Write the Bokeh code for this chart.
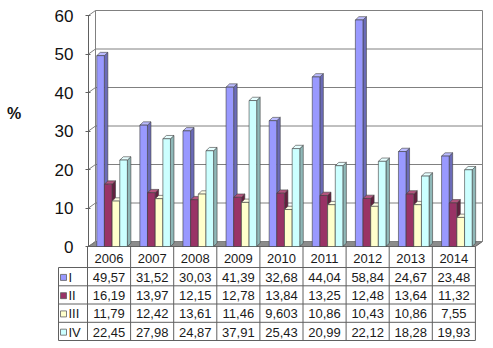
from bokeh.plotting import figure
from bokeh.models import Range1d, FixedTicker, Label
from bokeh.core.properties import value
from bokeh.embed import file_html
from bokeh.resources import INLINE

years = ["2006", "2007", "2008", "2009", "2010", "2011", "2012", "2013", "2014"]
series_names = ["I", "II", "III", "IV"]
s1 = [49.57, 31.52, 30.03, 41.39, 32.68, 44.04, 58.84, 24.67, 23.48]
s2 = [16.19, 13.97, 12.15, 12.78, 13.84, 13.25, 12.48, 13.64, 11.32]
s3 = [11.79, 12.42, 13.61, 11.46, 9.603, 10.86, 10.43, 10.86, 7.55]
s4 = [22.45, 27.98, 24.87, 37.91, 25.43, 20.99, 22.12, 18.28, 19.93]
y_ticks = [0, 10, 20, 30, 40, 50, 60]

series = [s1, s2, s3, s4]
front = ["#9999FF", "#993366", "#FFFFCC", "#CCFFFF"]
side = ["#6B6BB8", "#62203F", "#B8B88F", "#8FB8B8"]
topc = ["#BBBBFF", "#B5557F", "#FFFFE6", "#E6FFFF"]
edge = "#404040"
FONT = value("Liberation Sans")

PXU = 43.1     # px per category
PXV = 3.85     # px per y unit
n = len(years)
LEFT = 0


def vx(px):
    return (px - 87) / PXU


def vy(py):
    return (246 - py) / PXV


p = figure(width=493, height=348, output_backend="svg", toolbar_location=None,
           x_range=Range1d(vx(LEFT), vx(490)),
           y_range=Range1d(vy(348), vy(0)),
           min_border_left=LEFT, min_border_right=3, min_border_top=0, min_border_bottom=0,
           x_axis_location=None, outline_line_color=None)
p.grid.visible = False
p.background_fill_color = "white"

ax0 = vx(88)
wall_l = vx(95)
wall_r = vx(482)
dy = 5 / PXV
front_r = n * 1.0

p.patch([ax0, front_r, wall_r, wall_l], [0, 0, dy, dy],
        fill_color="#8C8C8C", line_color="#606060", line_width=1)
p.quad(left=[wall_l], right=[wall_r], bottom=[dy], top=[60 + dy],
       fill_color="white", line_color="#808080", line_width=1)
gl = [t for t in y_ticks if 0 < t < 60]
p.segment(x0=[wall_l] * len(gl), x1=[wall_r] * len(gl),
          y0=[t + dy for t in gl], y1=[t + dy for t in gl],
          line_color="#808080", line_width=1)
p.segment(x0=[ax0] * len(y_ticks), x1=[wall_l] * len(y_ticks),
          y0=y_ticks, y1=[t + dy for t in y_ticks], line_color="#808080", line_width=1)

bw = 0.176
off0 = 0.215
d = 3.5 / PXU
e = 3.3 / PXV
for s, vals in enumerate(series):
    x0 = [i + off0 + s * 0.178 for i in range(n)]
    x1 = [a + bw for a in x0]
    p.patches([[b, b + d, b + d, b] for b in x1],
              [[0, e, v + e, v] for v in vals],
              fill_color=side[s], line_color=edge, line_width=0.6)
    p.patches([[a, b, b + d, a + d] for a, b in zip(x0, x1)],
              [[v, v, v + e, v + e] for v in vals],
              fill_color=topc[s], line_color=edge, line_width=0.6)
    p.quad(left=x0, right=x1, bottom=[0] * n, top=vals,
           fill_color=front[s], line_color=edge, line_width=0.6)

p.yaxis.fixed_location = ax0
p.yaxis.ticker = FixedTicker(ticks=y_ticks)
p.yaxis.bounds = (0, 60)
p.yaxis.axis_line_color = "#606060"
p.yaxis.major_tick_line_color = "#606060"
p.yaxis.major_tick_out = 3
p.yaxis.major_tick_in = 2
p.yaxis.minor_tick_line_color = None
p.yaxis.major_label_standoff = 12
p.yaxis.major_label_text_font = "Liberation Sans"
p.yaxis.major_label_text_font_size = "17px"
p.yaxis.major_label_text_color = "#111111"

p.add_layout(Label(x=vx(13.5), y=vy(113), text="%",
                   text_font="Liberation Sans", text_font_size="16px",
                   text_font_style="bold", text_color="#111111",
                   text_align="center", text_baseline="middle"))

# ---------------- data table ----------------
rows = [vy(py) for py in [246, 267, 285.3, 303.5, 321.8, 340]]
legx = vx(58)
lc = "#606060"
p.segment(x0=[legx] * 5, x1=[n] * 5, y0=rows[1:], y1=rows[1:], line_color=lc, line_width=1)
p.segment(x0=list(range(n + 1)), x1=list(range(n + 1)), y0=[0] * (n + 1),
          y1=[rows[-1]] * (n + 1), line_color=lc, line_width=1)
p.segment(x0=[legx], x1=[legx], y0=[rows[1]], y1=[rows[-1]], line_color=lc, line_width=1)

xc = [i + 0.5 for i in range(n)]
p.text(x=xc, y=[vy(257.5)] * n, text=years, text_font=FONT,
       text_font_size="13px", text_color="#1a1a1a", text_align="center", text_baseline="middle")


def fmt(v):
    return str(v).replace(".", ",")


for r, vals in enumerate(series):
    yc = (rows[r + 1] + rows[r + 2]) / 2 - 0.2
    p.text(x=xc, y=[yc] * n, text=[fmt(v) for v in vals], text_font=FONT,
           text_font_size="13px", text_color="#1a1a1a", text_align="center",
           text_baseline="middle")
    p.scatter(x=[vx(63)], y=[yc], marker="square", size=6,
              fill_color=front[r], line_color="#606060", line_width=0.8)
    p.text(x=[vx(68)], y=[yc], text=[series_names[r]], text_font=FONT,
           text_font_size="13px", text_color="#1a1a1a", text_align="left",
           text_baseline="middle")

open("out.html", "w").write(file_html(p, INLINE))
